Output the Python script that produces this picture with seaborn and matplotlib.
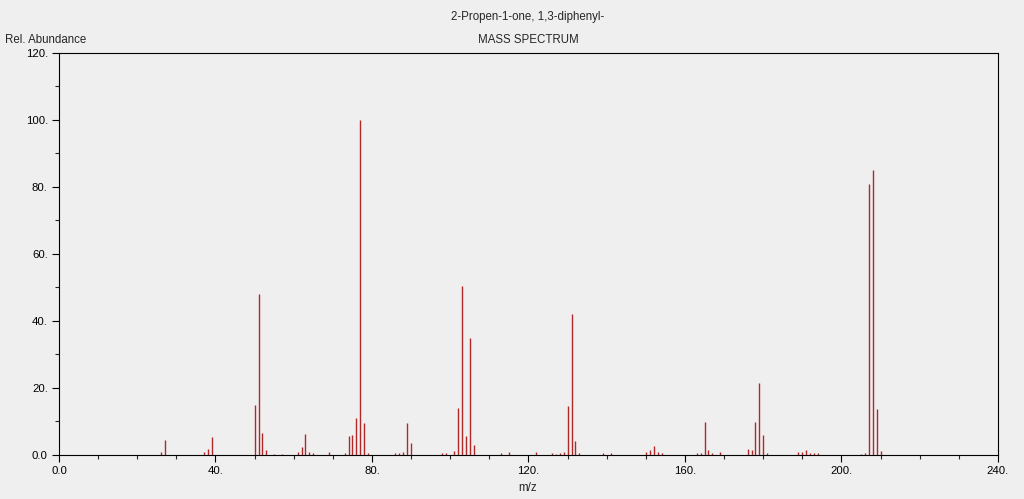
import numpy as np
import pandas as pd
import matplotlib
matplotlib.use("Agg")
import matplotlib.pyplot as plt
import seaborn as sns
from matplotlib.ticker import MultipleLocator

# m/z values and relative abundances
mz = [26, 27, 37, 38, 39, 50, 51, 52, 53, 55, 57,
      61, 62, 63, 64, 65, 69, 73, 74, 75, 76, 77, 78, 79,
      86, 87, 88, 89, 90, 98, 99, 101, 102, 103, 104, 105, 106,
      113, 115, 122, 126, 127, 128, 129, 130, 131, 132, 133,
      139, 141, 150, 151, 152, 153, 154,
      163, 164, 165, 166, 167, 169,
      176, 177, 178, 179, 180, 181,
      189, 190, 191, 192, 193, 194,
      205, 206, 207, 208, 209, 210]
abundance = [1.0, 4.5, 0.8, 1.8, 5.3, 15.0, 48.0, 6.5, 1.5, 0.4, 0.4,
             0.8, 2.5, 6.2, 1.0, 0.7, 1.0, 0.7, 5.7, 6.0, 11.1, 100.0, 9.6, 0.5,
             0.5, 0.7, 1.0, 9.5, 3.5, 0.5, 0.5, 1.3, 14.0, 50.5, 5.6, 35.0, 3.1,
             0.5, 1.0, 0.8, 0.5, 0.4, 0.5, 0.8, 14.6, 42.0, 4.2, 0.5,
             0.7, 0.5, 0.8, 1.4, 2.7, 0.9, 0.5,
             0.5, 0.7, 9.8, 1.5, 0.5, 1.0,
             1.8, 1.5, 9.8, 21.6, 6.0, 0.7,
             1.0, 0.8, 1.5, 0.7, 0.7, 0.5,
             0.4, 0.6, 81.0, 85.0, 13.6, 1.2]

x_ticks = [0, 40, 80, 120, 160, 200, 240]
x_tick_labels = ["0.0", "40.", "80.", "120.", "160.", "200.", "240."]
y_ticks = [0, 20, 40, 60, 80, 100, 120]
y_tick_labels = ["0.0", "20.", "40.", "60.", "80.", "100.", "120."]

df = pd.DataFrame({"mz": mz, "abundance": abundance})

sns.set_theme(style="ticks")
bg = "#efefef"
plt.rcParams["font.family"] = ["Liberation Sans", "DejaVu Sans"]

fig = plt.figure(figsize=(10.24, 4.99), dpi=100, facecolor=bg)
ax = fig.add_axes([0.0576, 0.0882, 0.9170, 0.8056], facecolor=bg)

ax.vlines(df["mz"], 0, df["abundance"], color="#b02828", linewidth=1.0)

ax.set_xlim(0, 240)
ax.set_ylim(0, 120)
ax.set_xticks(x_ticks)
ax.set_xticklabels(x_tick_labels)
ax.set_yticks(y_ticks)
ax.set_yticklabels(y_tick_labels)
ax.xaxis.set_minor_locator(MultipleLocator(10))
ax.yaxis.set_minor_locator(MultipleLocator(10))
ax.tick_params(axis="both", which="major", direction="out", length=5, width=0.8,
               labelsize=8.2, colors="black", pad=3)
ax.tick_params(axis="both", which="minor", direction="out", length=3, width=0.8)
ax.tick_params(top=False, right=False)
for s in ax.spines.values():
    s.set_visible(True)
    s.set_color("black")
    s.set_linewidth(0.8)

ax.set_xlabel("")
ax.set_ylabel("")
fs = 8.3
fig.text(0.5156, 0.966, "2-Propen-1-one, 1,3-diphenyl-", ha="center", va="center", fontsize=fs)
fig.text(0.5156, 0.920, "MASS SPECTRUM", ha="center", va="center", fontsize=fs)
fig.text(0.005, 0.920, "Rel. Abundance", ha="left", va="center", fontsize=fs)
fig.text(0.5156, 0.022, "m/z", ha="center", va="center", fontsize=fs)

fig.savefig("out.png", dpi=100, facecolor=bg)
